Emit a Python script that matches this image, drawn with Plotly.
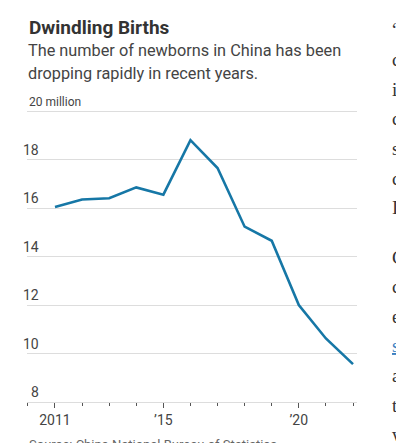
import plotly.graph_objects as go

years = list(range(2011, 2023))
births_million = [16.04, 16.35, 16.40, 16.85, 16.55, 18.80, 17.65, 15.23, 14.65, 12.00, 10.62, 9.56]
x_tick_vals = [2011, 2015, 2020]
x_tick_text = ["2011", "’15", "’20"]
y_tick_vals = [8, 10, 12, 14, 16, 18, 20]
y_tick_text = ["8", "10", "12", "14", "16", "18", "20 million"]
title_text = "Dwindling Births"
subtitle_lines = ["The number of newborns in China has been", "dropping rapidly in recent years."]
source_text = "Source: China National Bureau of Statistics"
side_letters_p1 = ["“", "c", "i", "c", "s", "c", "I"]
side_letters_p2 = ["C", "c", "e", "s", "a", "t", "w"]

W, H = 396, 443
L, R, T, B = 27, 39, 105, 41
PW, PH = W - L - R, H - T - B
UNIT = 24.25  # px per million
Y_TOP = 8 + PH / UNIT

def px_x(p):
    return (p - L) / PW

def px_y(p):
    return (H - B - p) / PH

fig = go.Figure()
fig.add_trace(go.Scatter(
    x=years, y=births_million, mode="lines",
    line=dict(color="#1677a6", width=2.6), hoverinfo="skip", showlegend=False,
))

ann = []
ann.append(dict(text="<b>" + title_text + "</b>", x=px_x(27), y=px_y(28), xanchor="left", yanchor="middle",
                font=dict(size=19, color="#333333", family="Roboto")))
for i, line in enumerate(subtitle_lines):
    ann.append(dict(text=line, x=px_x(26), y=px_y(50 + 23 * i), xanchor="left", yanchor="middle",
                    font=dict(size=16.3, color="#444444", family="Roboto")))
for v, t in zip(y_tick_vals, y_tick_text):
    if t.endswith("million"):
        ann.append(dict(text=t, x=px_x(27), y=v, yref="y", xanchor="left", yanchor="bottom", yshift=0,
                        font=dict(size=12, color="#444444", family="Roboto")))
    else:
        ann.append(dict(text=t, x=px_x(41), y=v, yref="y", xanchor="right", yanchor="bottom", yshift=0,
                        font=dict(size=14, color="#444444", family="Roboto")))
ann.append(dict(text=source_text, x=px_x(27), y=px_y(435), xanchor="left", yanchor="top",
                font=dict(size=13, color="#666666", family="Roboto")))
for i, ch in enumerate(side_letters_p1):
    ann.append(dict(text=ch, x=px_x(390), y=px_y(30 + 29.6 * i), xanchor="left", yanchor="middle",
                    font=dict(size=19, color="#333333", family="Liberation Serif")))
for i, ch in enumerate(side_letters_p2):
    txt = ch
    col = "#333333"
    if i == 3:
        txt = '<span style="text-decoration:underline">' + ch + '</span>'
        col = "#3a7fc1"
    ann.append(dict(text=txt, x=px_x(390), y=px_y(257 + 29.6 * i), xanchor="left", yanchor="middle",
                    font=dict(size=19, color=col, family="Liberation Serif")))

for a in ann:
    a.setdefault("xref", "paper")
    a.setdefault("yref", "paper")
    a["showarrow"] = False

fig.update_layout(
    width=W, height=H,
    margin=dict(l=L, r=R, t=T, b=B, pad=0),
    paper_bgcolor="white", plot_bgcolor="white",
    annotations=ann,
    xaxis=dict(
        range=[2011 - 28 / 27.1, 2022 + 4 / 27.1],
        tickvals=x_tick_vals, ticktext=x_tick_text,
        ticks="outside", ticklen=5, tickwidth=1, tickcolor="#555555",
        minor=dict(dtick=1, tick0=2011, ticks="outside", ticklen=3, tickcolor="#555555", showgrid=False),
        showgrid=False, zeroline=False, showline=True, linecolor="#dddddd", linewidth=1,
        tickfont=dict(size=14, color="#444444", family="Roboto"),
        fixedrange=True,
    ),
    yaxis=dict(
        range=[8, Y_TOP], tickvals=y_tick_vals, showticklabels=False,
        showgrid=True, gridcolor="#dddddd", gridwidth=1, zeroline=False, showline=False,
        ticks="", fixedrange=True,
    ),
)

fig.write_html("out.html", config={"displayModeBar": False, "staticPlot": True},
               post_script="document.body.style.margin='0';document.body.style.overflow='hidden';")
